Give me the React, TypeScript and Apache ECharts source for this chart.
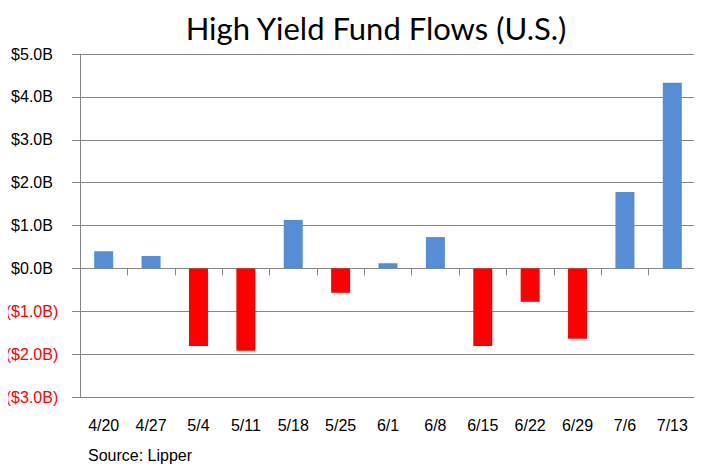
import React, { useEffect, useRef } from "react";
import * as echarts from "echarts";

const categories = ["4/20", "4/27", "5/4", "5/11", "5/18", "5/25", "6/1", "6/8", "6/15", "6/22", "6/29", "7/6", "7/13"];
const flows = [0.4, 0.29, -1.81, -1.92, 1.13, -0.57, 0.12, 0.73, -1.81, -0.78, -1.64, 1.78, 4.33];
const yTicks = { min: -3, max: 5, interval: 1 };
const titleText = "High Yield Fund Flows (U.S.)";
const sourceText = "Source: Lipper";

const BLUE = "#558ED5";
const RED = "#FF0000";
const GRID = "#868686";

function fmt(v: number): string {
  const s = "$" + Math.abs(v).toFixed(1) + "B";
  return v < 0 ? "(" + s + ")" : s;
}

export default function App() {
  const ref = useRef<HTMLDivElement>(null);
  useEffect(() => {
    if (!ref.current) return;
    const chart = echarts.init(ref.current, undefined, { renderer: "svg" });
    chart.setOption({
      animation: false,
      backgroundColor: "#ffffff",
      title: {
        text: titleText,
        left: 371,
        top: 7,
        textAlign: "center",
        textStyle: { fontFamily: "Lato", fontSize: 31, fontWeight: "normal", color: "#000" },
      },
      graphic: [
        {
          type: "text",
          left: 88,
          top: 447,
          style: { text: sourceText, font: "16px 'Liberation Sans', Arial", fill: "#000" },
        },
      ],
      grid: { left: 80, right: 6, top: 54, bottom: 79, containLabel: false },
      xAxis: [
        {
          type: "category",
          data: categories,
          position: "bottom",
          axisLine: { onZero: true, lineStyle: { color: GRID, width: 1 } },
          axisTick: { show: true, length: 7, lineStyle: { color: GRID } },
          axisLabel: { show: false },
          splitLine: { show: false },
        },
        {
          type: "category",
          data: categories,
          position: "bottom",
          axisLine: { show: false, onZero: false },
          axisTick: { show: false },
          axisLabel: {
            show: true,
            margin: 20,
            fontFamily: "'Liberation Sans', Arial",
            fontSize: 16,
            color: "#000",
          },
        },
      ],
      yAxis: {
        type: "value",
        min: yTicks.min,
        max: yTicks.max,
        interval: yTicks.interval,
        axisLine: { show: true, lineStyle: { color: GRID } },
        axisTick: { show: true, length: 8, lineStyle: { color: GRID } },
        splitLine: { show: true, lineStyle: { color: GRID, width: 1 } },
        axisLabel: {
          formatter: (v: number) => fmt(v),
          color: (v: any) => (Number(v) < 0 ? RED : "#000"),
          align: "center",
          margin: 48,
          fontFamily: "'Liberation Sans', Arial",
          fontSize: 16,
        },
      },
      series: [
        {
          type: "bar",
          xAxisIndex: 0,
          barWidth: 19,
          data: flows.map((v) => ({ value: v, itemStyle: { color: v < 0 ? RED : BLUE } })),
        },
      ],
    });
    return () => chart.dispose();
  }, []);
  return <div ref={ref} style={{ width: 702, height: 476, margin: -8 }} />;
}
